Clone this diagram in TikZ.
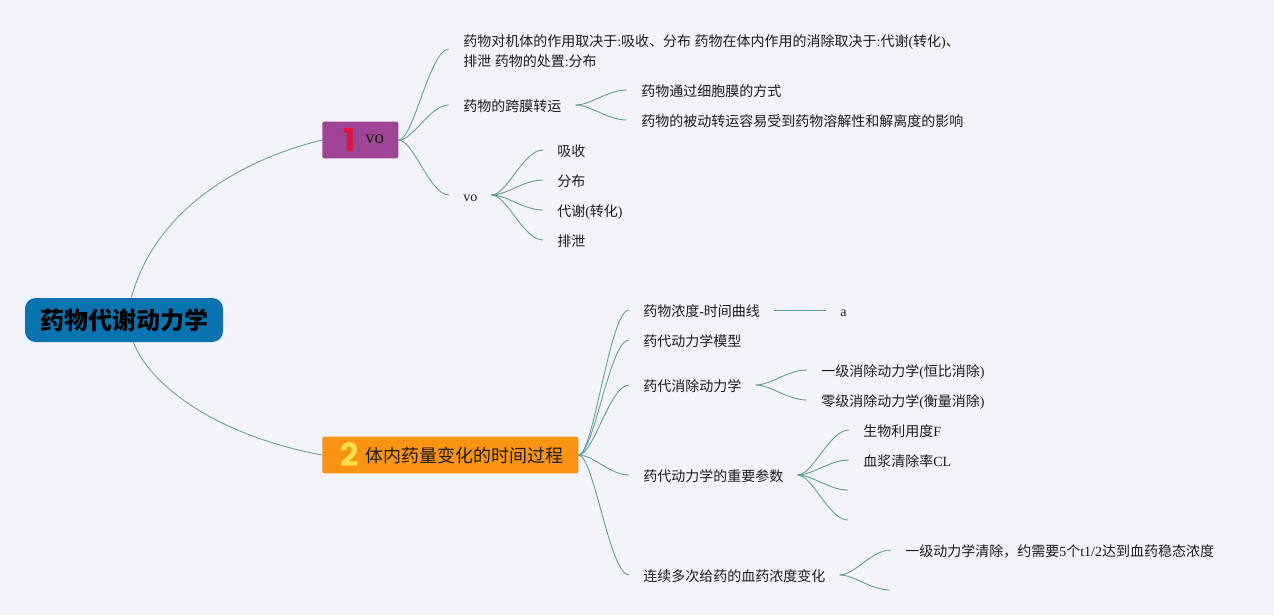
\documentclass[tikz,border=0pt]{standalone}
\usepackage{fontspec}
\setmainfont{Liberation Serif}
\newfontfamily\cjk{Noto Sans CJK SC}
\newfontfamily\numfont{Poppins}
\newcommand{\zh}[1]{{\cjk #1}}
\usepackage{tikz}
\usetikzlibrary{calc, positioning}
\definecolor{fondo}{RGB}{243,243,251}
\definecolor{linea}{RGB}{96,158,144}
\definecolor{tinta}{RGB}{28,28,28}
\tikzset{
    rama/.style={draw=linea, line width=0.65pt, to path={let \p1=(\tikztostart), \p2=(\tikztotarget) in .. controls ({\x1+0.3*(\x2-\x1)},\y1) and ({\x1+0.62*(\x2-\x1)},\y2) .. (\tikztotarget)}},
    texto/.style={anchor=west, inner xsep=10.5pt, inner ysep=0pt, text=tinta, font=\fontsize{10.5}{15}\selectfont, align=left},
    hoja/.style={texto, text height=10.25pt, text depth=1.75pt},
    caja/.style={anchor=west, rounded corners=1.5pt, minimum height=27.5pt, inner sep=0pt},
    cifra/.style={font=\fontsize{24}{24}\selectfont\numfont\bfseries}
}

\begin{document}
\begin{tikzpicture}[x=0.75pt, y=-0.75pt]
    \useasboundingbox[fill=fondo] (0,0) rectangle (1274,615);

    % raiz y temas
    \node[fill={rgb,255:red,10;green,116;blue,176}, rounded corners=8pt, minimum width=148.5pt, minimum height=33pt, inner sep=0pt, font=\fontsize{18}{18}\selectfont\cjk\bfseries, text=black] (raiz) at (124,320) {药物代谢动力学};
    \node[caja, fill={rgb,255:red,160;green,69;blue,149}, minimum width=57pt] (tema1) at (322,140) {};
    \node[caja, fill={rgb,255:red,251;green,148;blue,18}, minimum width=192pt] (tema2) at (322,455) {};
    \node[cifra, text={rgb,255:red,226;green,20;blue,60}] (num1) at (350,140) {1};
    \node[cifra, text={rgb,255:red,250;green,222;blue,80}] (num2) at (350,455) {2};
    \node[anchor=west, inner sep=0pt, font=\fontsize{14}{14}\selectfont, text=tinta] (txt1) at (365,139) {vo};
    \node[anchor=west, inner sep=0pt, font=\fontsize{13.5}{14}\selectfont\cjk, text=tinta] (txt2) at (365,456) {体内药量变化的时间过程};

    % primer tema
    \node[texto] (efecto) at (449,51) {\zh{药物对机体的作用取决于}:\zh{吸收、分布} \zh{药物在体内作用的消除取决于}:\zh{代谢}(\zh{转化})\zh{、}\\\zh{排泄} \zh{药物的处置}:\zh{分布}};
    \node[hoja] (membrana) at (449,106) {\zh{药物的跨膜转运}};
    \node[hoja] (vo) at (449,196) {vo};
    \node[hoja] (modo) at (627,91) {\zh{药物通过细胞膜的方式}};
    \node[hoja] (pasivo) at (627,121) {\zh{药物的被动转运容易受到药物溶解性和解离度的影响}};
    \node[hoja] (abs) at (543,151) {\zh{吸收}};
    \node[hoja] (dist) at (543,181) {\zh{分布}};
    \node[hoja] (meta) at (543,211) {\zh{代谢}(\zh{转化})};
    \node[hoja] (excr) at (543,241) {\zh{排泄}};

    % segundo tema
    \node[hoja] (curva) at (629,311) {\zh{药物浓度}-\zh{时间曲线}};
    \node[hoja] (modelo) at (629,341) {\zh{药代动力学模型}};
    \node[hoja] (elim) at (629,386) {\zh{药代消除动力学}};
    \node[hoja] (param) at (629,476) {\zh{药代动力学的重要参数}};
    \node[hoja] (dosis) at (629,576) {\zh{连续多次给药的血药浓度变化}};
    \node[hoja] (a) at (826,311) {a};
    \node[hoja] (orden1) at (807,371) {\zh{一级消除动力学}(\zh{恒比消除})};
    \node[hoja] (orden0) at (807,401) {\zh{零级消除动力学}(\zh{衡量消除})};
    \node[hoja] (biod) at (849,431) {\zh{生物利用度}F};
    \node[hoja] (clear) at (849,461) {\zh{血浆清除率}CL};
    \coordinate (param3) at (848,490);
    \coordinate (param4) at (848,520);
    \node[hoja] (estado) at (891,551) {\zh{一级动力学清除，约需要}5\zh{个}t1/2\zh{达到血药稳态浓度}};
    \coordinate (dosis2) at (890,590);

    % conexiones
    \draw[draw=linea, line width=0.6pt] ([xshift=5.5pt]raiz.north) .. controls (155,210) and (240,160) .. (tema1.west);
    \draw[draw=linea, line width=0.6pt] ([xshift=7pt]raiz.south) .. controls (150,385) and (215,435) .. (tema2.west);
    \foreach \hijo in {membrana, vo}
        \draw[rama] (tema1.east) to ([yshift=0.75pt]\hijo.west);
    \draw[rama] (tema1.east) to ([yshift=1.5pt]efecto.west);
    \foreach \hijo in {modo, pasivo}
        \draw[rama] ([yshift=0.75pt]membrana.east) to ([yshift=0.75pt]\hijo.west);
    \foreach \hijo in {abs, dist, meta, excr}
        \draw[rama] ([yshift=0.75pt]vo.east) to ([yshift=0.75pt]\hijo.west);
    \foreach \hijo in {curva, modelo, elim, param, dosis}
        \draw[rama] (tema2.east) to ([yshift=0.75pt]\hijo.west);
    \draw[draw=linea, line width=0.65pt] ([yshift=0.75pt]curva.east) -- ([yshift=0.75pt]a.west);
    \foreach \hijo in {orden1, orden0}
        \draw[rama] ([yshift=0.75pt]elim.east) to ([yshift=0.75pt]\hijo.west);
    \foreach \hijo in {biod, clear}
        \draw[rama] ([yshift=0.75pt]param.east) to ([yshift=0.75pt]\hijo.west);
    \foreach \hijo in {param3, param4}
        \draw[rama] ([yshift=0.75pt]param.east) to (\hijo);
    \draw[rama] ([yshift=0.75pt]dosis.east) to ([yshift=0.75pt]estado.west);
    \draw[rama] ([yshift=0.75pt]dosis.east) to (dosis2);
\end{tikzpicture}
\end{document}
